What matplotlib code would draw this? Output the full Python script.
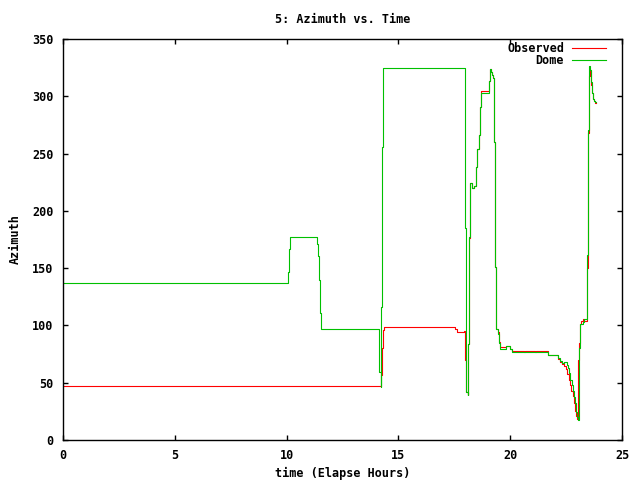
import matplotlib
matplotlib.use("Agg")
import matplotlib.pyplot as plt

# Dome (green) breakpoints: time (hours), azimuth
dome_t = [0, 10.08, 10.12, 10.17, 11.37, 11.42, 11.46, 11.51, 11.55,
          14.15, 14.20, 14.22, 14.24, 14.28, 14.33,
          17.99, 18.04, 18.10, 18.13, 18.17, 18.22, 18.30, 18.39, 18.48, 18.53,
          18.62, 18.66, 18.71, 19.07, 19.11, 19.16, 19.20, 19.24, 19.29, 19.33,
          19.38, 19.47, 19.51, 19.56, 19.80, 19.98, 20.07, 21.70, 22.15, 22.23,
          22.33, 22.42, 22.53, 22.60, 22.64, 22.69, 22.78, 22.82, 22.87, 22.91,
          22.96, 23.00, 23.05, 23.07, 23.09, 23.14, 23.27, 23.32, 23.45, 23.49,
          23.54, 23.58, 23.63, 23.67, 23.72, 23.76, 23.80, 23.82]
dome_v = [137, 147, 167, 177, 171, 161, 140, 111, 96.6,
          59, 90, 46, 116, 256, 325,
          185, 42, 39, 84, 177, 224, 220, 222, 238, 254,
          266, 291, 303.3, 313.6, 323.5, 321.5, 318.6, 315.7, 260.4, 150.7,
          96.6, 92.5, 84.4, 79.1, 82, 79, 76.5, 74.2, 71.3, 69.2,
          66.9, 68.4, 65.5, 62.6, 58.8, 52.4, 48, 43, 37.8, 32,
          24.7, 20.4, 17.5, 37.8, 80, 101.2, 103.3, 105.3, 161.5, 270.6,
          326.4, 323, 312.7, 303, 298, 296, 295, 295]

# Observed (red) breakpoints
obs_t = [0, 14.24, 14.27, 14.31, 14.37, 17.53, 17.60, 17.95, 17.99,
         18.04, 18.10, 18.13, 18.17, 18.22, 18.30, 18.39, 18.48, 18.53,
         18.62, 18.66, 18.71, 19.07, 19.11, 19.16, 19.20, 19.24, 19.29, 19.33,
         19.38, 19.47, 19.51, 19.56, 19.80, 19.98, 20.07, 20.60, 20.65, 21.10,
         21.15, 21.70, 22.15, 22.23, 22.30, 22.36, 22.42, 22.50, 22.56, 22.62,
         22.66, 22.72, 22.80, 22.84, 22.88, 22.93, 22.97, 23.01, 23.05, 23.08,
         23.10, 23.15, 23.27, 23.32, 23.44, 23.48, 23.53, 23.58, 23.63, 23.67,
         23.72, 23.76, 23.80, 23.85]
obs_v = [47.1, 57, 80, 96, 98.9, 96.6, 94, 95, 70,
         42, 39, 84, 176, 224, 220, 222, 238, 254,
         266, 291, 304.8, 313.6, 323.5, 321.5, 318.6, 315.7, 260.4, 150.7,
         96.6, 94, 85.5, 81, 82, 79, 77.7, 76.8, 77.7, 77.0,
         77.7, 74.0, 70.5, 68.4, 66.0, 67.5, 64.5, 62.0, 58.0, 52.0,
         48.0, 43.0, 38.0, 32.0, 25.0, 21.0, 18.0, 30.0, 70.0, 85.0,
         101.5, 103.5, 105.5, 104.0, 150.0, 268.0, 318.0, 323.0, 310.0, 303.0,
         298.0, 296.0, 294.0, 293.8]

xticks = [0, 5, 10, 15, 20, 25]
yticks = [0, 50, 100, 150, 200, 250, 300, 350]

fnt = {"family": "DejaVu Sans Mono", "weight": "bold", "size": 8.5}

fig = plt.figure(figsize=(6.4, 4.8), dpi=100)
ax = fig.add_axes([63/640, 40/480, 559/640, 401/480])

ax.plot(obs_t, obs_v, color="#ff0000", lw=0.8, drawstyle="steps-post", label="Observed")
ax.plot(dome_t, dome_v, color="#00c000", lw=0.8, drawstyle="steps-post", label="Dome")

ax.set_xlim(0, 25)
ax.set_ylim(0, 350)
ax.set_xticks(xticks)
ax.set_yticks(yticks)
ax.set_xticklabels([str(v) for v in xticks], fontdict=fnt)
ax.set_yticklabels([str(v) for v in yticks], fontdict=fnt)
ax.tick_params(axis="x", direction="in", length=3.5, width=1, top=True, pad=6.5)
ax.tick_params(axis="y", direction="in", length=3.5, width=1, right=True, pad=7)
for s in ax.spines.values():
    s.set_linewidth(1)

ax.set_title("5: Azimuth vs. Time", fontdict=fnt, pad=11.5)
ax.set_xlabel("time (Elapse Hours)", fontdict=fnt, labelpad=3.5)
ax.set_ylabel("Azimuth", fontdict=fnt, labelpad=7)

leg = ax.legend(loc="upper right", bbox_to_anchor=(0.979, 1.004), frameon=False,
                markerfirst=False,
                prop={"family": "DejaVu Sans Mono", "weight": "bold", "size": 8.5},
                handlelength=2.8, handletextpad=0.7, labelspacing=-0.1,
                borderaxespad=0.0)

fig.savefig("out.png", dpi=100)
